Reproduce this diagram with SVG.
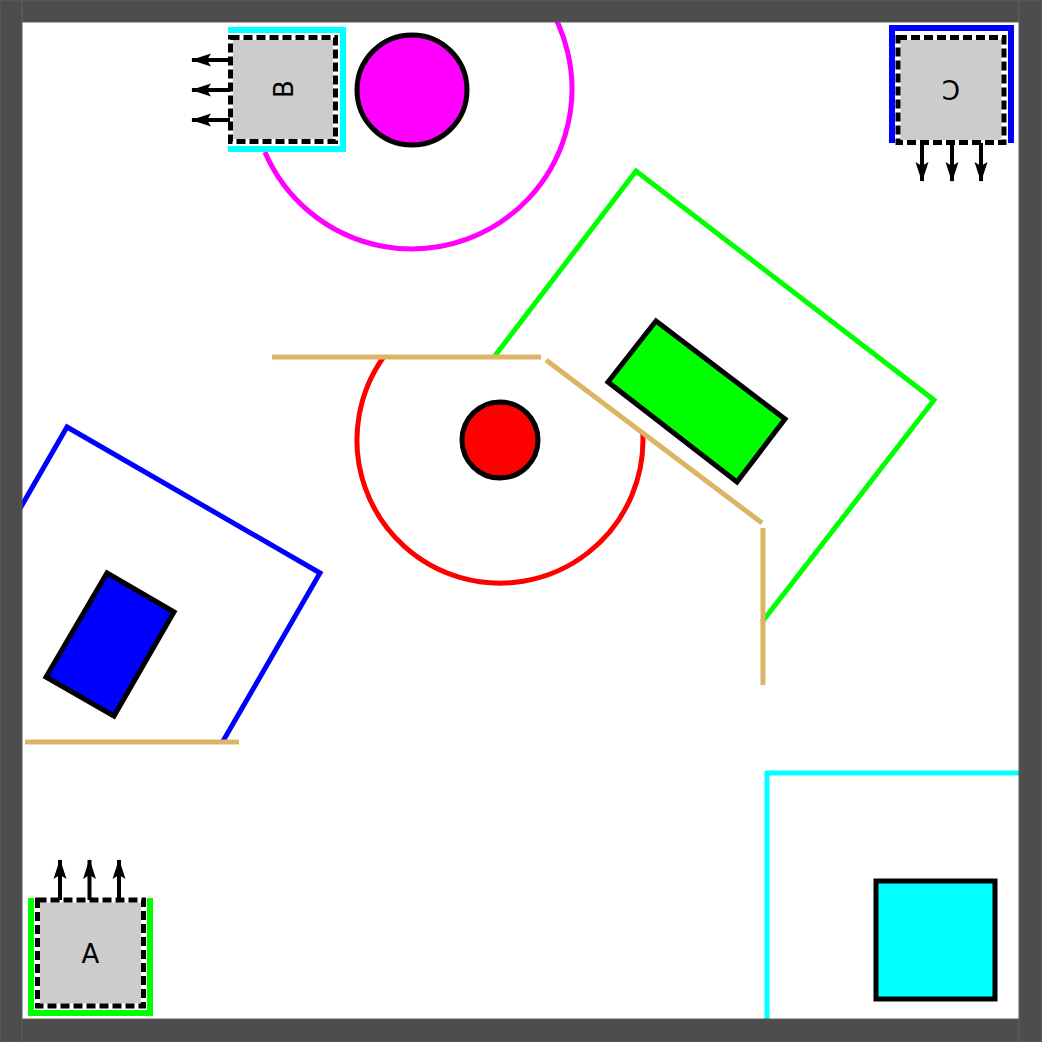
<svg xmlns="http://www.w3.org/2000/svg" width="1042" height="1042" viewBox="0 0 1042 1042">
<style>
.zone{fill:none;stroke-width:5;stroke-linejoin:miter}
.wall{stroke:#dbb466;stroke-width:5;fill:none}
.body{stroke:#000;stroke-width:5;stroke-linejoin:miter}
.box{fill:#cccccc}
.dash{fill:none;stroke:#000;stroke-width:5;stroke-dasharray:9 4}
.bay{fill:none;stroke-width:6}
.lbl{font-family:"DejaVu Sans",sans-serif;font-size:26px;fill:#000;text-anchor:middle;dominant-baseline:central}
.arr{stroke:#000;stroke-width:4;fill:none}
.frame{fill:#4d4d4d;stroke:#5e5e5e;stroke-width:1}
</style>
<defs>
<marker id="ah" viewBox="0 0 20 14" refX="19" refY="7" markerWidth="20" markerHeight="14" markerUnits="userSpaceOnUse" orient="auto">
<path d="M0,0.5 L20,7 L0,13.5 L4,7 Z" fill="#000"/>
</marker>
</defs>
<rect x="0" y="0" width="1042" height="1042" fill="#fff"/>
<g id="zones">
<path id="zone-magenta" class="zone" stroke="#ff00ff" d="M264.9,152 A160,160 0 1 0 466.7,-61.4"/>
<path id="zone-red" class="zone" stroke="#ff0000" d="M642.8,433 A143,143 0 1 1 383.6,357"/>
<polyline id="zone-green" class="zone" stroke="#00ff00" points="494,357 636,171 934,400 762,622"/>
<polyline id="zone-blue" class="zone" stroke="#0000ff" points="10,526 67,427 320,573 222.5,742"/>
<polyline id="zone-cyan" class="zone" stroke="#00ffff" points="767,1030 767,773 1030,773"/>
</g>
<g id="walls">
<line class="wall" x1="272" y1="357" x2="541" y2="357"/>
<line class="wall" x1="546" y1="360" x2="762" y2="523"/>
<line class="wall" x1="763" y1="528" x2="763" y2="685"/>
<line class="wall" x1="25" y1="742" x2="239" y2="742"/>
</g>
<g id="robot-magenta"><circle class="body" cx="412" cy="90" r="55" fill="#ff00ff"/></g>
<g id="robot-red"><circle class="body" cx="500" cy="440" r="38" fill="#ff0000"/></g>
<g id="robot-green"><polygon class="body" fill="#00ff00" points="656,321 785,419 737,482 608,382"/></g>
<g id="robot-blue"><polygon class="body" fill="#0000ff" points="107,573 174,612 114,716 46,677"/></g>
<g id="robot-cyan"><rect class="body" fill="#00ffff" x="876" y="881" width="119" height="118"/></g>
<g id="station-A">
<polyline class="bay" stroke="#00ff00" points="31,898 31,1013 150,1013 150,898"/>
<rect class="box" x="40" y="902.5" width="101" height="101"/>
<rect class="dash" x="37.5" y="900" width="106" height="106"/>
<text class="lbl" x="90.5" y="954">A</text>
</g>
<g id="station-B">
<polyline class="bay" stroke="#00ffff" points="228,30 343,30 343,149 228,149"/>
<rect class="box" x="233" y="40" width="100" height="99"/>
<rect class="dash" x="230.5" y="37.5" width="105" height="104"/>
<text class="lbl" transform="translate(284,89) rotate(-90)" x="0" y="0">B</text>
</g>
<g id="station-C">
<polyline class="bay" stroke="#0000ff" points="892,143 892,28 1011,28 1011,143"/>
<rect class="box" x="900.5" y="40" width="101" height="100"/>
<rect class="dash" x="898" y="37.5" width="106" height="105"/>
<text class="lbl" transform="translate(951,89) rotate(180)" x="0" y="0">C</text>
</g>
<g id="connectors">
<line class="arr" x1="60" y1="900" x2="60" y2="860" marker-end="url(#ah)"/>
<line class="arr" x1="89.5" y1="900" x2="89.5" y2="860" marker-end="url(#ah)"/>
<line class="arr" x1="119" y1="900" x2="119" y2="860" marker-end="url(#ah)"/>
<line class="arr" x1="230" y1="60" x2="192" y2="60" marker-end="url(#ah)"/>
<line class="arr" x1="230" y1="90" x2="192" y2="90" marker-end="url(#ah)"/>
<line class="arr" x1="230" y1="120" x2="192" y2="120" marker-end="url(#ah)"/>
<line class="arr" x1="922" y1="143" x2="922" y2="181" marker-end="url(#ah)"/>
<line class="arr" x1="952" y1="143" x2="952" y2="181" marker-end="url(#ah)"/>
<line class="arr" x1="981" y1="143" x2="981" y2="181" marker-end="url(#ah)"/>
</g>
<g id="frame">
<rect class="frame" x="22" y="0" width="997" height="22"/>
<rect class="frame" x="0" y="1019" width="1019" height="23"/>
<rect class="frame" x="0" y="0" width="22" height="1042"/>
<rect class="frame" x="1019" y="0" width="23" height="1042"/>
</g>
</svg>
